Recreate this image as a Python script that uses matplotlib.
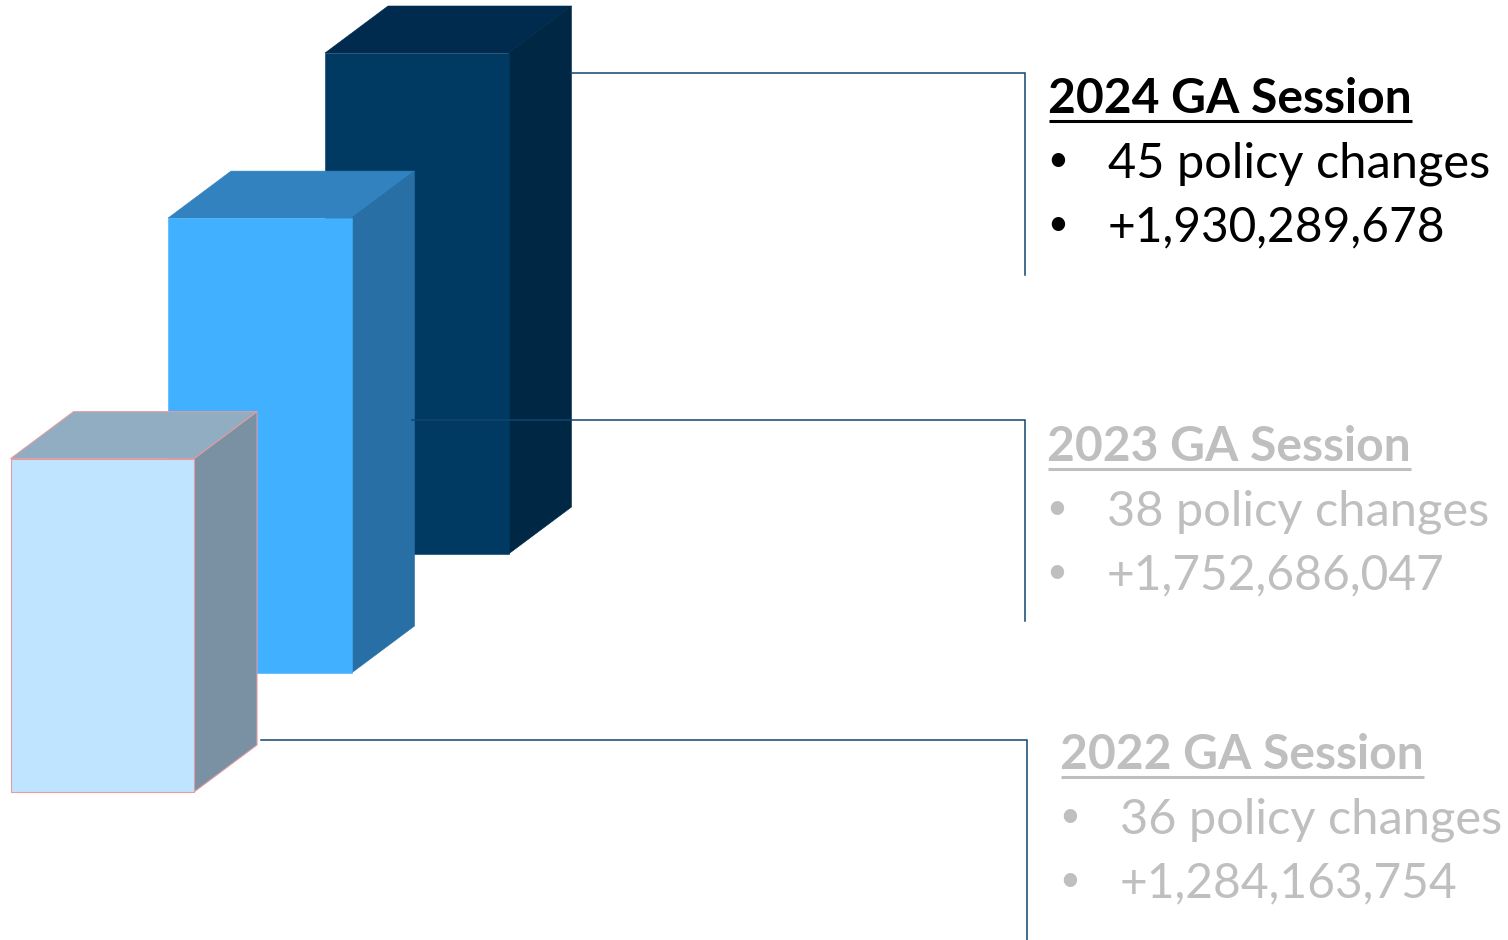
import matplotlib
matplotlib.use('Agg')
import matplotlib.pyplot as plt
from matplotlib.patches import Polygon

plt.rcParams['font.family'] = ['Lato', 'DejaVu Sans']

# order is back to front
sessions = ['2024 GA Session', '2023 GA Session', '2022 GA Session']
policy_changes = [45, 38, 36]
amounts = [1930289678, 1752686047, 1284163754]

front_colors = ['#003A63', '#40B0FF', '#BFE4FF']
top_colors = ['#002B4E', '#3182BF', '#91ADC1']
side_colors = ['#002743', '#286FA5', '#7A90A3']
edge_colors = ['#003A63', '#40B0FF', '#E39CA2']
text_colors = ['black', '#BFBFBF', '#BFBFBF']

# layout in pixels
W, H = 1508, 940
PX_PER_DOLLAR = 501 / 1930289678
BAR_W = 183.5
DX, DY = 63, 47
bar_left = [325, 168, 10.5]
bar_base = [554, 673, 792]
text_x = [1049, 1048, 1061]
title_base = [113, 461, 769]
LINE_STEP = 64
connectors = [(571, 73, 1025, 275), (412, 420, 1025, 621), (261, 740, 1027, 940)]
LINE_COLOR = '#0F4570'
TITLE_SIZE = 34.6
POLICY_SIZE = 35.1
AMOUNT_SIZE = 34.5
BULLET_SIZE = 26

fig = plt.figure(figsize=(W / 100, H / 100), dpi=100)
ax = fig.add_axes([0, 0, 1, 1])
ax.set_xlim(0, W)
ax.set_ylim(H, 0)
ax.axis('off')

for i, amount in enumerate(amounts):
    h = amount * PX_PER_DOLLAR
    x0, base = bar_left[i], bar_base[i]
    top = base - h
    x1 = x0 + BAR_W
    # the pale bar has a visible pink outline, the others only close the seams
    top_ec = edge_colors[2] if i == 2 else top_colors[i]
    side_ec = edge_colors[2] if i == 2 else side_colors[i]
    edge_w = 0.8 if i == 2 else 0.4
    ax.add_patch(Polygon([(x0, top), (x0 + DX, top - DY), (x1 + DX, top - DY), (x1, top)],
                         fc=top_colors[i], ec=top_ec, lw=edge_w, zorder=2 + i))
    ax.add_patch(Polygon([(x1, top), (x1 + DX, top - DY), (x1 + DX, base - DY), (x1, base)],
                         fc=side_colors[i], ec=side_ec, lw=edge_w, zorder=2 + i))
    ax.bar(x0, h, width=BAR_W, bottom=top, align='edge', color=front_colors[i],
           edgecolor=edge_colors[i], linewidth=edge_w, zorder=2 + i)

for x0, y0, x1, y1 in connectors:
    ax.plot([x0, x1, x1], [y0, y0, y1], color=LINE_COLOR, lw=1.1, zorder=6,
            solid_joinstyle='miter')

for i, name in enumerate(sessions):
    x, y, c = text_x[i], title_base[i], text_colors[i]
    ax.text(x - 1, y, name, fontsize=TITLE_SIZE, fontweight='bold', color=c, va='baseline')
    ax.plot([x, x + 363], [y + 7.5, y + 7.5], color=c, lw=2.2, zorder=6, solid_capstyle='butt')
    items = [(f'{policy_changes[i]} policy changes', POLICY_SIZE), (f'+{amounts[i]:,}', AMOUNT_SIZE)]
    for j, (item, size) in enumerate(items):
        yy = y + LINE_STEP * (j + 1)
        ax.text(x - 1.5, yy - 6, '•', fontsize=BULLET_SIZE, color=c, va='baseline')
        ax.text(x + 59, yy, item, fontsize=size, color=c, va='baseline')

fig.savefig('out.png', dpi=100)
